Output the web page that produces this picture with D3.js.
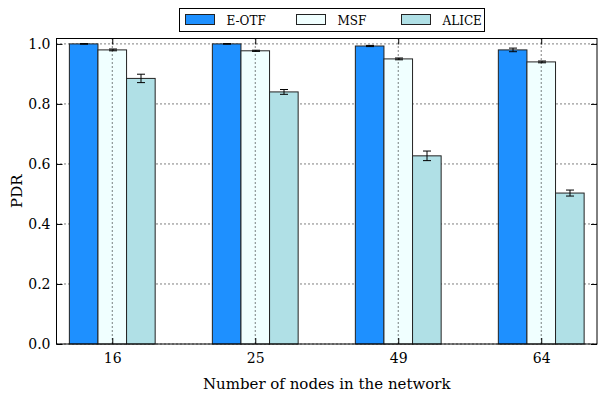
<!DOCTYPE html>
<html>
<head>
<meta charset="utf-8">
<script src="https://cdn.jsdelivr.net/npm/d3@7"></script>
<style>
  html, body { margin: 0; padding: 0; background: #fff; }
  svg { display: block; }
  svg text { font-family: "DejaVu Serif", serif; }
</style>
</head>
<body>
<svg id="chart" width="598" height="396"></svg>
<script>
// Packet delivery ratio per network size
const categories = ["16", "25", "49", "64"];
const seriesNames = ["E-OTF", "MSF", "ALICE"];
const eotf = [1.000, 1.000, 0.993, 0.980];
const msf = [0.980, 0.977, 0.950, 0.940];
const alice = [0.885, 0.840, 0.627, 0.503];
const eotfErr = [0.001, 0.001, 0.002, 0.006];
const msfErr = [0.003, 0.002, 0.003, 0.003];
const aliceErr = [0.014, 0.008, 0.016, 0.010];
const yTicks = [0.0, 0.2, 0.4, 0.6, 0.8, 1.0];
const colors = ["#1e90ff", "#f0ffff", "#b0e0e6"];

const values = [eotf, msf, alice];
const errors = [eotfErr, msfErr, aliceErr];

const svg = d3.select("#chart");
const margin = { left: 56.5, right: 1, top: 38.5, bottom: 52 };
const W = 598, H = 396;
const plotW = W - margin.left - margin.right;
const plotH = H - margin.top - margin.bottom;

const g = svg.append("g").attr("transform", `translate(${margin.left},${margin.top})`);

// x: group index, bars centred on the middle series
const x = d3.scaleLinear().domain([-0.39, 3.39]).range([0, plotW]);
const y = d3.scaleLinear().domain([0, 1.018]).range([plotH, 0]);
const barW = 0.2;

// horizontal grid
g.append("g").selectAll("line").data(yTicks).join("line")
  .attr("x1", 0).attr("x2", plotW)
  .attr("y1", d => y(d)).attr("y2", d => y(d))
  .attr("stroke", "#000").attr("stroke-width", 1)
  .attr("stroke-dasharray", "1,3");

// bars
seriesNames.forEach((name, s) => {
  const off = (s - 1) * barW;
  const sg = g.append("g");
  sg.selectAll("rect").data(values[s]).join("rect")
    .attr("x", (d, i) => x(i + off - barW / 2))
    .attr("width", (d, i) => x(i + off + barW / 2) - x(i + off - barW / 2))
    .attr("y", d => y(d))
    .attr("height", d => plotH - y(d))
    .attr("fill", colors[s])
    .attr("stroke", "#222").attr("stroke-width", 1);
});

// vertical grid at category ticks (drawn over bars)
g.append("g").selectAll("line").data(categories).join("line")
  .attr("x1", (d, i) => x(i)).attr("x2", (d, i) => x(i))
  .attr("y1", 0).attr("y2", plotH)
  .attr("stroke", "#000").attr("stroke-width", 1)
  .attr("stroke-dasharray", "1,3");

// error bars
seriesNames.forEach((name, s) => {
  const off = (s - 1) * barW;
  const eg = g.append("g").attr("stroke", "#000").attr("stroke-width", 1);
  values[s].forEach((v, i) => {
    const cx = Math.round(x(i + off)) + 0.5;
    const e = errors[s][i];
    eg.append("line").attr("x1", cx).attr("x2", cx).attr("y1", y(v + e)).attr("y2", y(v - e));
    eg.append("line").attr("x1", cx - 4).attr("x2", cx + 4).attr("y1", y(v + e)).attr("y2", y(v + e));
    eg.append("line").attr("x1", cx - 4).attr("x2", cx + 4).attr("y1", y(v - e)).attr("y2", y(v - e));
  });
});

// axes
const yAxis = d3.axisLeft(y).tickValues(yTicks).tickFormat(d3.format(".1f")).tickSize(-6).tickPadding(6);
const yAxisR = d3.axisRight(y).tickValues(yTicks).tickFormat("").tickSize(-6);
const xAxis = d3.axisBottom(x).tickValues(d3.range(categories.length)).tickFormat(i => categories[i]).tickSize(-6).tickPadding(9);
const xAxisT = d3.axisTop(x).tickValues(d3.range(categories.length)).tickFormat("").tickSize(-6);

function style(sel) {
  sel.select(".domain").remove();
  sel.selectAll("line").attr("stroke", "#000");
  sel.selectAll("text").attr("font-size", 14).attr("fill", "#000").attr("font-family", null);
}
g.append("g").call(yAxis).call(style);
g.append("g").attr("transform", `translate(${plotW},0)`).call(yAxisR).call(style);
g.append("g").attr("transform", `translate(0,${plotH})`).call(xAxis).call(style);
g.append("g").call(xAxisT).call(style);

// frame
g.append("rect").attr("x", 0).attr("y", 0).attr("width", plotW).attr("height", plotH)
  .attr("fill", "none").attr("stroke", "#000").attr("stroke-width", 1);

// axis titles
svg.append("text").attr("x", margin.left + plotW / 2).attr("y", 389)
  .attr("text-anchor", "middle").attr("font-size", 15).text("Number of nodes in the network");
svg.append("text").attr("transform", `translate(22,${margin.top + plotH / 2}) rotate(-90)`)
  .attr("text-anchor", "middle").attr("font-size", 15).text("PDR");

// legend
const leg = svg.append("g").attr("transform", "translate(179.5,8.5)");
leg.append("rect").attr("width", 305).attr("height", 23).attr("fill", "#fff").attr("stroke", "#000");
const itemX = [6, 117, 222];
seriesNames.forEach((name, s) => {
  const it = leg.append("g").attr("transform", `translate(${itemX[s]},0)`);
  it.append("rect").attr("x", 0).attr("y", 6).attr("width", 29).attr("height", 10)
    .attr("fill", colors[s]).attr("stroke", "#222");
  it.append("text").attr("x", 41).attr("y", 16).attr("font-size", 12).text(name);
});
</script>
</body>
</html>
